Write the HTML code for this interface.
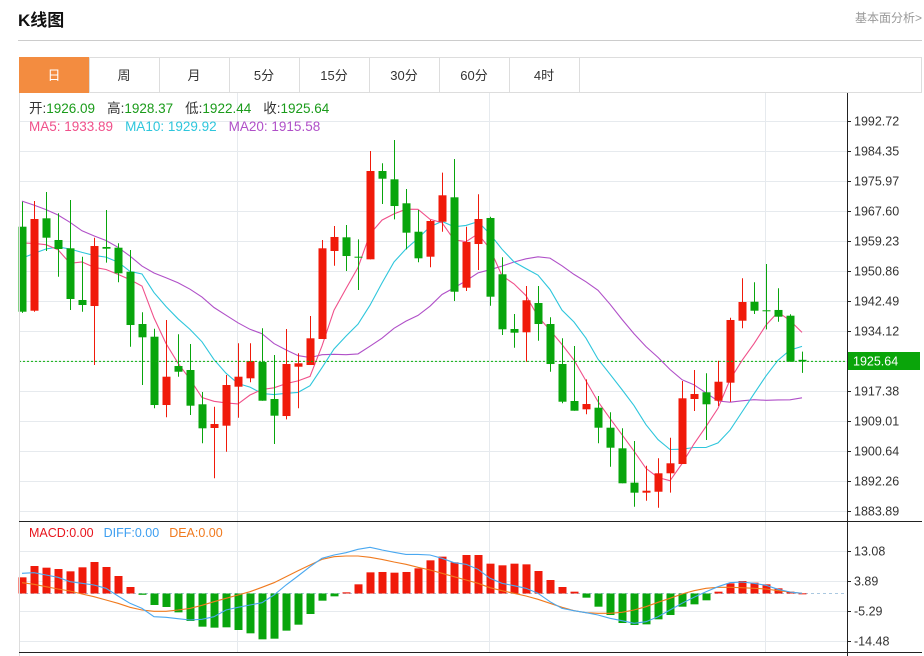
<!DOCTYPE html>
<html><head><meta charset="utf-8">
<style>
html,body{margin:0;padding:0;background:#fff;width:924px;height:656px;overflow:hidden;font-family:"Liberation Sans","Noto Sans CJK SC",sans-serif;}
svg text{font-family:"Liberation Sans","Noto Sans CJK SC",sans-serif;}
</style></head>
<body>
<svg id="c" width="924" height="656" xmlns="http://www.w3.org/2000/svg">
<text x="18" y="26" font-size="17" font-weight="bold" fill="#111">K线图</text>
<text x="922" y="22" font-size="12" fill="#999" text-anchor="end">基本面分析&gt;</text>
<line x1="18" y1="40.5" x2="922" y2="40.5" stroke="#ccc"/>
<g id="tabs"></g>
<g id="grid"></g>
<g id="ma"></g>
<g id="candles"></g>
<g id="macd"></g>
<g id="axes"></g>
<text x="29" y="113" font-size="13.5"><tspan fill="#333">开:</tspan><tspan fill="#1a9b1a">1926.09</tspan><tspan fill="#333" dx="12">高:</tspan><tspan fill="#1a9b1a">1928.37</tspan><tspan fill="#333" dx="12">低:</tspan><tspan fill="#1a9b1a">1922.44</tspan><tspan fill="#333" dx="12">收:</tspan><tspan fill="#1a9b1a">1925.64</tspan></text>
<text x="29" y="131" font-size="13.5"><tspan fill="#f0508a">MA5: 1933.89</tspan><tspan fill="#2ec6dc" dx="12">MA10: 1929.92</tspan><tspan fill="#b050c8" dx="12">MA20: 1915.58</tspan></text>
<text x="29" y="537" font-size="12.5"><tspan fill="#e8141c">MACD:0.00</tspan><tspan fill="#3c9ef0" dx="10">DIFF:0.00</tspan><tspan fill="#f07a1e" dx="10">DEA:0.00</tspan></text>
</svg>
<script>
var opens=[1963.23,1939.79,1965.57,1959.52,1957.2,1942.78,1941.1,1957.57,1957.37,1950.67,1936.08,1932.54,1913.48,1924.36,1923.25,1913.68,1907.07,1907.71,1918.59,1920.93,1925.48,1915.16,1910.41,1924.17,1924.64,1931.9,1956.45,1960.27,1954.86,1954.13,1978.77,1976.45,1969.76,1961.83,1954.86,1964.62,1971.43,1946.21,1958.4,1965.66,1949.95,1934.69,1933.77,1941.94,1936.08,1924.92,1914.6,1912.28,1912.73,1907.15,1901.4,1891.81,1889.02,1889.29,1894.43,1897.02,1915.16,1917.03,1914.68,1919.71,1937.0,1942.3,1939.91,1940.0,1938.4,1926.09];
var highs=[1970.2,1970.4,1972.91,1966.97,1970.68,1954.86,1960.16,1967.89,1958.6,1956.73,1939.35,1934.77,1937.2,1933.21,1930.5,1917.11,1913.01,1921.85,1930.7,1930.7,1934.88,1927.43,1934.69,1927.91,1938.31,1959.52,1963.42,1963.7,1959.71,1984.35,1980.92,1987.42,1973.75,1967.89,1965.1,1978.3,1982.12,1963.23,1972.27,1966.0,1954.69,1938.87,1946.68,1946.68,1937.95,1932.09,1929.94,1920.65,1915.99,1911.45,1906.98,1903.44,1896.55,1898.61,1904.36,1920.18,1923.25,1922.33,1925.84,1937.84,1948.83,1947.72,1952.82,1946.04,1938.79,1928.37];
var lows=[1939.2,1939.5,1956.45,1949.28,1939.99,1939.51,1924.64,1953.19,1947.72,1929.75,1919.06,1912.56,1910.05,1921.38,1910.69,1902.8,1893.03,1900.45,1909.94,1919.82,1914.68,1902.6,1909.49,1912.56,1924.64,1931.9,1952.35,1950.87,1945.57,1954.13,1969.56,1965.29,1956.92,1953.3,1951.9,1961.83,1942.5,1945.29,1951.15,1941.19,1933.01,1929.47,1925.56,1931.42,1922.77,1913.96,1911.89,1910.89,1902.8,1896.27,1891.64,1885.11,1886.78,1884.83,1889.02,1897.02,1911.81,1903.72,1913.2,1914.4,1934.88,1938.87,1934.6,1936.72,1925.56,1922.44];
var closes=[1939.51,1965.38,1960.16,1957.01,1943.06,1941.38,1957.84,1957.09,1950.23,1935.8,1932.37,1913.48,1921.38,1922.77,1913.29,1906.98,1908.18,1919.06,1921.38,1925.76,1914.68,1910.5,1924.92,1925.12,1932.09,1957.2,1960.36,1955.05,1954.58,1978.77,1976.62,1969.0,1961.56,1954.41,1964.82,1971.99,1945.09,1958.96,1965.38,1943.7,1934.6,1933.66,1942.7,1936.08,1924.92,1914.4,1911.89,1913.76,1907.15,1901.57,1891.64,1889.02,1889.57,1894.43,1897.22,1915.35,1916.55,1913.68,1919.98,1937.2,1942.22,1939.79,1939.63,1938.12,1925.56,1925.64];
var priorCloses=[1988,1985,1987,1984,1989,1986,1983,1988,1985,1988,1952,1948,1951,1949,1951,1966,1962,1964,1962];
var macdHist=[4.95,8.42,7.91,7.5,6.79,8.02,9.65,8.12,5.36,1.99,-0.4,-3.52,-4.13,-5.77,-8.42,-10.16,-10.46,-10.36,-11.18,-12.2,-14.04,-13.84,-11.38,-9.55,-6.28,-2.2,-0.87,0.36,2.81,6.48,6.59,6.38,6.59,7.71,10.16,11.29,9.55,11.79,11.79,9.14,8.63,9.14,8.93,6.89,4.13,1.99,0.56,-1.28,-4.04,-6.59,-9.04,-9.65,-9.45,-7.91,-6.59,-4.04,-3.32,-2.09,0.56,3.11,3.83,3.32,2.81,1.58,0.56,0.05];
var diffVals=[6.18,6.38,5.67,4.95,3.63,3.11,2.6,1.58,-0.77,-3.01,-4.55,-7.1,-7.3,-7.71,-8.12,-7.91,-7.1,-5.05,-4.24,-3.52,-2.81,-0.46,2.6,5.36,8.22,10.77,11.79,12.51,13.53,14.14,13.32,12.61,11.99,11.99,11.79,10.77,9.45,8.93,7.4,4.65,3.11,2.4,1.58,0.05,-2.5,-4.55,-5.26,-5.87,-6.59,-7.6,-8.32,-9.14,-8.63,-7.1,-5.05,-3.01,-1.17,0.56,2.09,3.32,3.52,3.11,2.5,1.28,0.46,0.06];
var deaVals=[3.32,2.81,2.09,1.38,0.77,-0.15,-0.97,-1.99,-3.01,-4.24,-5.05,-5.46,-5.46,-5.05,-4.55,-3.63,-2.5,-1.48,-0.46,0.56,1.89,3.32,5.16,6.99,8.73,10.46,11.28,11.49,11.49,11.08,10.46,9.65,8.93,8.02,7.2,6.18,5.16,4.13,3.11,1.79,0.87,0.06,-0.77,-1.79,-3.01,-4.24,-5.26,-5.87,-6.08,-6.08,-5.77,-5.05,-4.04,-2.7,-1.48,-0.15,0.87,1.58,1.89,1.89,1.79,1.58,1.38,0.87,0.46,0.06];
var priceTicks=["1992.72","1984.35","1975.97","1967.60","1959.23","1950.86","1942.49","1934.12","1925.64","1917.38","1909.01","1900.64","1892.26","1883.89"];
var macdTicks=["13.08","3.89","-5.29","-14.48"];
var tabLabels=["日","周","月","5分","15分","30分","60分","4时"];

var NS="http://www.w3.org/2000/svg";
function mk(tag,attrs,parent){var e=document.createElementNS(NS,tag);for(var k in attrs)e.setAttribute(k,attrs[k]);parent.appendChild(e);return e;}
function X(i){return 22+12*i;}
function Y(p){return 121+(1992.72-p)*30/8.37;}
function MY(v){return 593.5-v*30/9.19;}
var RED="#f01a0a",GREEN="#08a50c";

var tabs=document.getElementById('tabs');
var tb=mk('rect',{x:19.5,y:57.5,width:902,height:35,fill:'none',stroke:'#ddd'},tabs);


tabLabels.forEach(function(t,i){
  var x0=i==0?19:89+70*(i-1),w=70;
  var g=mk('g',{},tabs);
  
  
  mk('rect',{x:x0+0.5,y:57.5,width:w,height:35,fill:i==0?'#f38c40':'#fff',stroke:i==0?'#f38c40':'#ddd'},g);
  var tx=mk('text',{x:x0+w/2,y:80,'font-size':13,'text-anchor':'middle',fill:i==0?'#fff':'#333'},g);
  tx.textContent=t;
});

var grid=document.getElementById('grid');
priceTicks.forEach(function(t,i){
  var y=Math.round(121+30*i)+0.5;
  var l=mk('line',{x1:19,y1:y,x2:847,y2:y,stroke:'#e6eaee'},grid);
  
  
});
macdTicks.forEach(function(t,i){
  var y=551.5+30*i;
  var l=mk('line',{x1:19,y1:y,x2:847,y2:y,stroke:'#e6eaee'},grid);
  
  
});
[237.5,489.5,765.5].forEach(function(x){
  var l=mk('line',{x1:x,y1:93,x2:x,y2:652,stroke:'#e6eaee'},grid);
  
  
});

var all=priorCloses.concat(closes);
function ma(n){var r=[];for(var i=0;i<closes.length;i++){var j=i+priorCloses.length,s=0;for(var k=0;k<n;k++)s+=all[j-k];r.push(s/n);}return r;}
var maG=document.getElementById('ma');
[[20,'#b050c8','ma20-line'],[10,'#2ec6dc','ma10-line'],[5,'#f0508a','ma5-line']].forEach(function(m){
  var v=ma(m[0]);
  var d=v.map(function(p,i){return (i?'L':'M')+X(i)+' '+Y(p).toFixed(1);}).join('');
  var pth=mk('path',{d:d,fill:'none',stroke:m[1],'stroke-width':1.1},maG);
  
  
});

var cg=document.getElementById('candles');
for(var i=0;i<closes.length;i++){
  var up=closes[i]>=opens[i],col=up?RED:GREEN;
  var g=mk('g',{},cg);
  
  
  mk('line',{x1:X(i)+0.5,y1:Y(highs[i]),x2:X(i)+0.5,y2:Y(lows[i]),stroke:col,'stroke-width':1},g);
  var t=Y(Math.max(opens[i],closes[i])),b=Y(Math.min(opens[i],closes[i]));
  mk('rect',{x:X(i)-3.5,y:t,width:8,height:Math.max(1,b-t),fill:col},g);
}
var lp=mk('line',{x1:19,y1:Y(closes[closes.length-1]),x2:847,y2:Y(closes[closes.length-1]),stroke:'#0ab00a','stroke-dasharray':'2,2'},cg);



var mg=document.getElementById('macd');
var zl=mk('line',{x1:19,y1:MY(0),x2:847,y2:MY(0),stroke:'#aac8e0','stroke-dasharray':'3,3'},mg);


macdHist.forEach(function(v,i){
  var y0=MY(0),y1=MY(v);
  var r=mk('rect',{x:X(i)-3.5,y:Math.min(y0,y1),width:8,height:Math.max(1,Math.abs(y1-y0)),fill:v>=0?RED:GREEN},mg);
  
  
});
[[deaVals,'#f07a1e','dea-line'],[diffVals,'#4aa8f0','diff-line']].forEach(function(s){
  var d=s[0].map(function(v,i){return (i?'L':'M')+X(i)+' '+MY(v).toFixed(1);}).join('');
  var p=mk('path',{d:d,fill:'none',stroke:s[1],'stroke-width':1.1},mg);
  
  
});

var ax=document.getElementById('axes');
var a1=mk('line',{x1:847.5,y1:93,x2:847.5,y2:656,stroke:'#222'},ax);


var a2=mk('line',{x1:19.5,y1:93,x2:19.5,y2:656,stroke:'#ddd'},ax);


var a3=mk('line',{x1:19,y1:521.5,x2:922,y2:521.5,stroke:'#222'},ax);


var a4=mk('line',{x1:19,y1:652.5,x2:922,y2:652.5,stroke:'#222'},ax);


priceTicks.forEach(function(t,i){
  var y=121+30*i;
  if(i==8){
    var bx=mk('rect',{x:848,y:y-9,width:72,height:18,fill:'#0aa50a'},ax);
    
    
    var tt=mk('text',{x:853,y:y+4.5,'font-size':12.5,fill:'#fff'},ax);
    tt.textContent=t;
    return;
  }
  mk('line',{x1:847,y1:y+0.5,x2:851,y2:y+0.5,stroke:'#222'},ax);
  var tx=mk('text',{x:854,y:y+4.5,'font-size':12.5,fill:'#333'},ax);
  
  
  tx.textContent=t;
});
macdTicks.forEach(function(t,i){
  var y=551+30*i;
  mk('line',{x1:847,y1:y+0.5,x2:851,y2:y+0.5,stroke:'#222'},ax);
  var tx=mk('text',{x:854,y:y+4.5,'font-size':12.5,fill:'#333'},ax);
  
  
  tx.textContent=t;
});
</script>
</body></html>
